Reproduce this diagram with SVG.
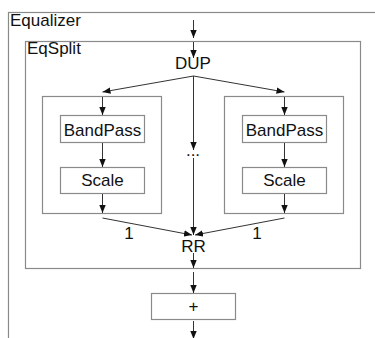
<svg xmlns="http://www.w3.org/2000/svg" width="375" height="338" viewBox="0 0 375 338">
<defs>
<marker id="ah" viewBox="0 0 8 8" refX="8" refY="4" markerWidth="8" markerHeight="8" markerUnits="userSpaceOnUse" orient="auto">
<path d="M0,0.8 L8,4 L0,7.2 Z" fill="#111"/>
</marker>
<style>
.box{fill:#fff;stroke:#8a8a8a;stroke-width:1.2}
.t{font-family:"Liberation Sans",Arial,sans-serif;font-size:17px;fill:#111}
.c{fill:none;stroke:#333;stroke-width:1}
.a{marker-end:url(#ah)}
</style>
</defs>
<rect width="375" height="338" fill="#fff"/>
<g id="Equalizer">
<rect class="box" x="8.5" y="12.5" width="420" height="400"/>
<text class="t" x="10" y="26">Equalizer</text>
</g>
<g id="EqSplit">
<rect class="box" x="25.5" y="41.5" width="335" height="227"/>
<text class="t" x="27" y="54">EqSplit</text>
</g>
<g id="DUP"><text class="t" x="193" y="69" text-anchor="middle">DUP</text></g>
<g id="LeftBranch">
<rect class="box" x="42.5" y="96.5" width="119" height="117"/>
</g>
<g id="RightBranch">
<rect class="box" x="224.5" y="96.5" width="119" height="117"/>
</g>
<g id="BandPassL">
<rect class="box" x="60.5" y="115.5" width="84" height="27"/>
<text class="t" x="102.5" y="136" text-anchor="middle">BandPass</text>
</g>
<g id="ScaleL">
<rect class="box" x="60.5" y="167.5" width="84" height="26"/>
<text class="t" x="102.5" y="186" text-anchor="middle">Scale</text>
</g>
<g id="BandPassR">
<rect class="box" x="242.5" y="115.5" width="84" height="27"/>
<text class="t" x="284.5" y="136" text-anchor="middle">BandPass</text>
</g>
<g id="ScaleR">
<rect class="box" x="242.5" y="167.5" width="84" height="26"/>
<text class="t" x="284.5" y="186" text-anchor="middle">Scale</text>
</g>
<g id="Ellipsis"><text class="t" x="193" y="156" text-anchor="middle">...</text></g>
<g id="RR"><text class="t" x="193.5" y="252" text-anchor="middle">RR</text></g>
<g id="Plus">
<rect class="box" x="151.5" y="293.5" width="84" height="26"/>
<text class="t" x="193.5" y="312" text-anchor="middle">+</text>
</g>
<g id="connectors">
<line class="c a" x1="193.5" y1="20" x2="193.5" y2="38"/>
<line class="c a" x1="193.5" y1="42" x2="193.5" y2="58"/>
<line class="c a" x1="193.5" y1="76" x2="102.5" y2="92"/>
<line class="c a" x1="193.5" y1="76" x2="284.5" y2="92"/>
<line class="c a" x1="193.5" y1="76" x2="193.5" y2="150"/>
<line class="c a" x1="193.5" y1="158" x2="193.5" y2="235"/>
<line class="c a" x1="102.5" y1="97" x2="102.5" y2="115"/>
<line class="c a" x1="102.5" y1="143" x2="102.5" y2="167"/>
<line class="c a" x1="102.5" y1="194" x2="102.5" y2="213"/>
<line class="c a" x1="284.5" y1="97" x2="284.5" y2="115"/>
<line class="c a" x1="284.5" y1="143" x2="284.5" y2="167"/>
<line class="c a" x1="284.5" y1="194" x2="284.5" y2="213"/>
<line class="c a" x1="102.5" y1="218" x2="192" y2="235"/>
<line class="c a" x1="284.5" y1="218" x2="195" y2="235"/>
<line class="c a" x1="193.5" y1="253" x2="193.5" y2="268"/>
<line class="c a" x1="193.5" y1="272" x2="193.5" y2="293"/>
<line class="c a" x1="193.5" y1="321" x2="193.5" y2="339"/>
</g>
<g id="labels">
<text class="t" x="129" y="239" text-anchor="middle">1</text>
<text class="t" x="257" y="239" text-anchor="middle">1</text>
</g>
</svg>
